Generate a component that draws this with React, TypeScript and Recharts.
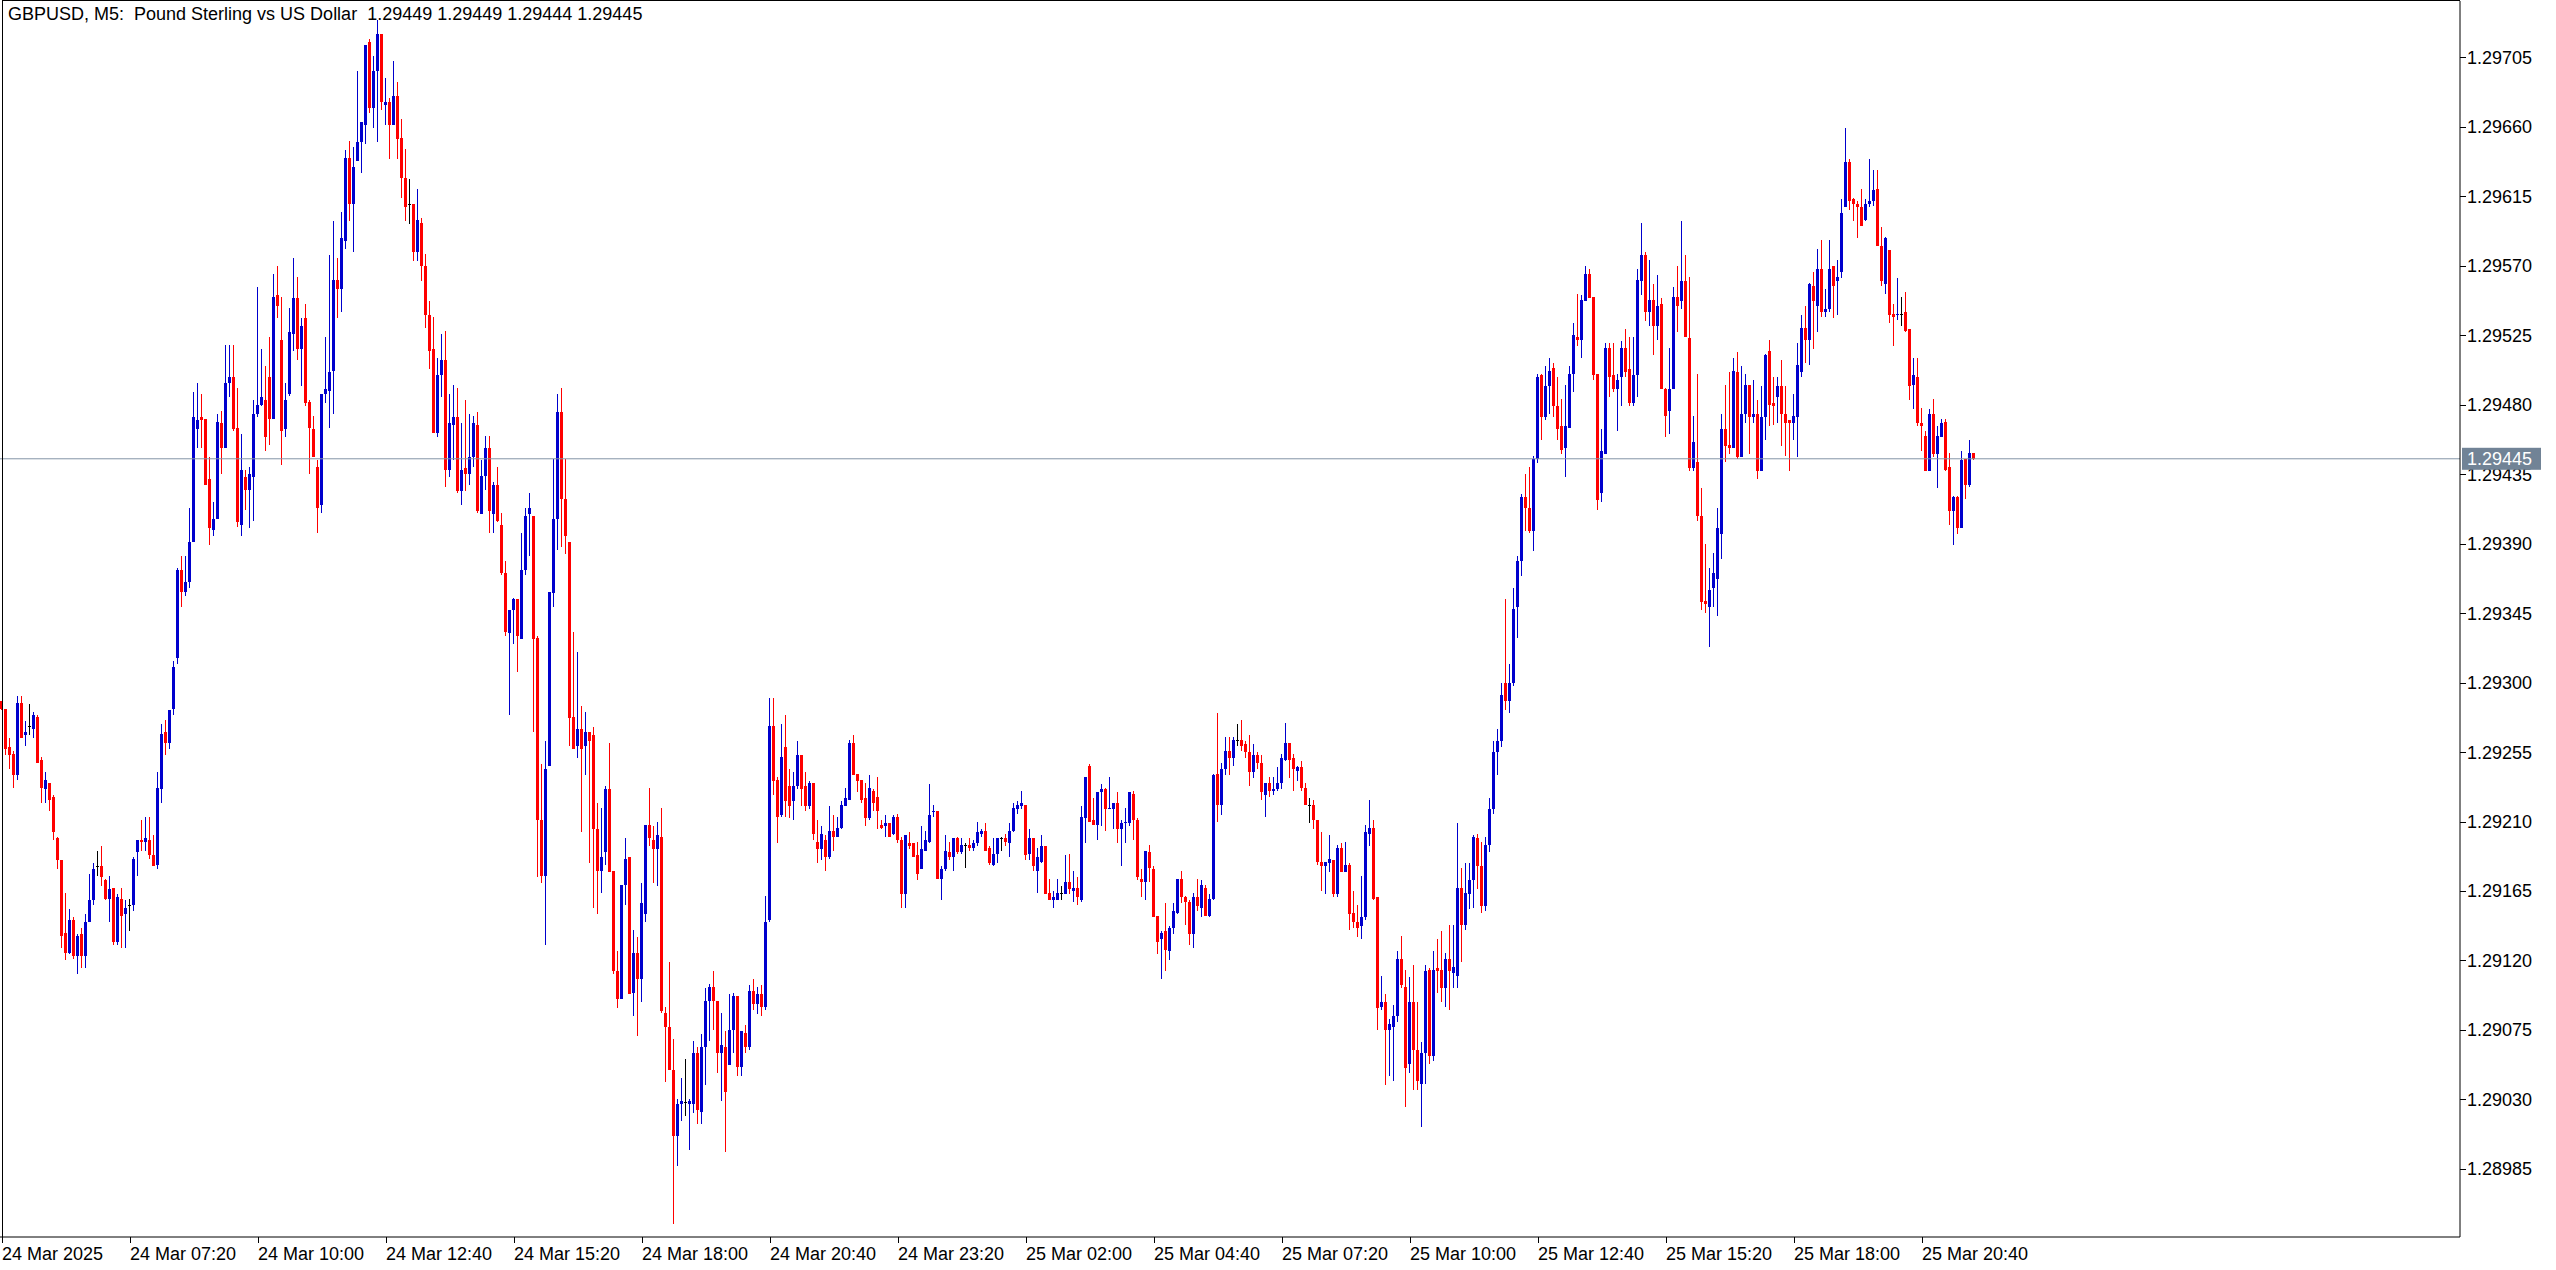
import React from 'react';
import { ComposedChart, Bar, XAxis, YAxis, ReferenceLine } from 'recharts';

// GBPUSD M5 candles, 24 Mar 04:40 .. 25 Mar 21:45 (2025).
// Prices are kept in points (0.00001) above 1.29000.
const BASE = 1.29;
const SYMBOL = 'GBPUSD';
const PERIOD = 'M5';
const DESCRIPTION = 'Pound Sterling vs US Dollar';

const opens = [
  288, 283, 258, 254, 240, 287, 266, 272, 270, 278,
  250, 231, 235, 226, 199, 185, 138, 125, 146, 123,
  137, 123, 145, 159, 181, 181, 172, 160, 167, 132,
  160, 150, 156, 156, 190, 198, 197, 198, 188, 182,
  231, 268, 261, 283, 316, 373, 359, 365, 391, 464,
  472, 471, 432, 399, 406, 468, 452, 494, 498, 465,
  402, 433, 425, 433, 474, 480, 483, 498, 471, 551,
  522, 464, 487, 526, 549, 516, 536, 482, 464, 440,
  415, 487, 489, 502, 561, 555, 586, 640, 610, 638,
  650, 661, 715, 672, 696, 720, 674, 676, 661, 680,
  653, 627, 610, 610, 579, 598, 570, 538, 516, 462,
  499, 509, 438, 467, 472, 424, 439, 435, 446, 467,
  409, 434, 452, 409, 428, 402, 371, 332, 347, 354,
  328, 373, 409, 408, 329, 211, 175, 246, 358, 406,
  475, 419, 391, 278, 259, 270, 259, 268, 266, 205,
  178, 190, 231, 178, 113, 95, 169, 187, 99, 125,
  108, 150, 208, 198, 192, 200, 86, 77, 49, 6,
  27, 28, 27, 27, 60, 22, 64, 94, 103, 94,
  60, 64, 52, 75, 97, 51, 73, 64, 100, 92,
  98, 90, 146, 272, 237, 214, 258, 233, 223, 233,
  253, 233, 220, 235, 197, 192, 198, 187, 204, 200,
  206, 220, 224, 261, 241, 237, 225, 212, 230, 226,
  208, 207, 209, 202, 213, 198, 163, 196, 196, 188,
  179, 191, 197, 216, 217, 173, 179, 190, 187, 199,
  190, 195, 195, 193, 196, 202, 204, 193, 182, 189,
  199, 199, 196, 204, 218, 220, 221, 189, 199, 178,
  184, 194, 164, 159, 159, 164, 163, 171, 165, 167,
  159, 212, 246, 211, 208, 229, 231, 218, 218, 222,
  205, 209, 209, 228, 211, 173, 171, 190, 179, 149,
  134, 139, 126, 141, 151, 173, 161, 158, 137, 161,
  154, 167, 149, 160, 241, 221, 244, 256, 251, 263,
  263, 260, 255, 242, 253, 248, 227, 235, 230, 231,
  235, 250, 261, 251, 243, 245, 232, 221, 221, 211,
  184, 181, 183, 185, 163, 193, 177, 182, 151, 145,
  142, 148, 202, 206, 161, 90, 93, 75, 77, 84,
  121, 103, 53, 93, 62, 40, 60, 114, 58, 115,
  114, 102, 121, 112, 110, 167, 143, 163, 172, 199,
  181, 155, 195, 218, 255, 262, 300, 288, 300, 349,
  379, 420, 413, 398, 445, 499, 472, 492, 504, 479,
  466, 452, 465, 500, 524, 522, 547, 565, 550, 500,
  423, 448, 517, 499, 490, 498, 517, 503, 481, 499,
  560, 577, 540, 548, 531, 545, 490, 476, 490, 550,
  547, 560, 523, 439, 443, 408, 353, 349, 361, 367,
  396, 464, 454, 452, 501, 446, 474, 493, 472, 474,
  437, 472, 515, 481, 485, 492, 474, 470, 468, 472,
  501, 530, 522, 557, 544, 568, 540, 542, 570, 560,
  566, 608, 637, 613, 610, 608, 600, 610, 612, 620,
  583, 558, 580, 539, 538, 539, 540, 529, 493, 498,
  468, 460, 437, 474, 448, 459, 469, 440, 411, 420,
  400, 445, 428, 449,
];

const highs = [
  288, 283, 264, 256, 291, 291, 275, 286, 281, 279,
  252, 242, 235, 227, 200, 185, 164, 153, 148, 137,
  141, 150, 176, 183, 191, 194, 173, 175, 167, 163,
  167, 159, 160, 187, 198, 211, 213, 213, 201, 242,
  273, 276, 282, 314, 374, 382, 382, 413, 488, 494,
  487, 471, 446, 417, 474, 476, 519, 519, 519, 491,
  461, 438, 440, 483, 556, 516, 505, 524, 565, 570,
  550, 494, 543, 575, 563, 536, 545, 483, 473, 444,
  487, 524, 577, 599, 575, 605, 645, 651, 647, 696,
  663, 713, 717, 706, 729, 720, 692, 679, 703, 689,
  665, 646, 626, 610, 620, 601, 578, 547, 537, 510,
  526, 528, 487, 493, 491, 468, 483, 474, 473, 475,
  444, 460, 460, 430, 440, 410, 379, 347, 355, 354,
  397, 413, 423, 408, 330, 247, 262, 359, 445, 487,
  491, 445, 391, 333, 320, 285, 281, 268, 271, 222,
  219, 233, 261, 178, 126, 169, 199, 187, 140, 135,
  170, 208, 232, 207, 210, 219, 90, 119, 69, 30,
  44, 56, 30, 68, 64, 72, 102, 105, 113, 94,
  86, 74, 98, 99, 97, 74, 78, 104, 108, 103,
  104, 162, 290, 290, 239, 273, 279, 244, 242, 262,
  253, 242, 236, 235, 211, 207, 201, 220, 214, 213,
  223, 232, 263, 266, 241, 237, 235, 240, 231, 239,
  211, 214, 209, 214, 215, 200, 201, 203, 196, 197,
  207, 204, 234, 221, 217, 181, 201, 197, 199, 200,
  199, 196, 199, 198, 210, 205, 209, 194, 199, 199,
  200, 202, 209, 222, 223, 230, 221, 205, 199, 193,
  201, 194, 173, 165, 173, 168, 188, 189, 178, 174,
  220, 239, 247, 225, 229, 234, 232, 239, 222, 229,
  211, 219, 229, 230, 212, 179, 191, 195, 181, 149,
  139, 157, 142, 157, 173, 178, 162, 159, 164, 173,
  172, 169, 163, 241, 280, 248, 265, 265, 265, 273,
  276, 262, 266, 260, 255, 253, 235, 239, 239, 245,
  254, 274, 261, 254, 246, 249, 235, 225, 224, 211,
  203, 184, 201, 185, 195, 196, 197, 183, 165, 156,
  175, 208, 224, 211, 161, 110, 98, 82, 91, 126,
  136, 114, 109, 117, 93, 67, 117, 115, 126, 134,
  139, 125, 143, 143, 209, 180, 183, 183, 201, 202,
  197, 200, 225, 262, 270, 300, 354, 312, 361, 382,
  422, 435, 440, 447, 500, 500, 505, 510, 507, 498,
  484, 493, 505, 533, 552, 551, 570, 568, 550, 500,
  464, 520, 520, 520, 500, 521, 529, 524, 524, 568,
  598, 579, 574, 558, 564, 549, 491, 517, 556, 570,
  599, 577, 563, 473, 500, 426, 390, 374, 384, 413,
  474, 493, 501, 510, 514, 505, 500, 493, 496, 483,
  492, 513, 522, 498, 498, 509, 492, 470, 487, 520,
  538, 544, 559, 566, 581, 587, 555, 587, 570, 574,
  613, 659, 639, 614, 612, 620, 613, 639, 632, 632,
  595, 589, 580, 545, 562, 550, 553, 529, 510, 510,
  478, 463, 477, 484, 466, 471, 471, 449, 421, 421,
  450, 445, 457, 449,
];

const lows = [
  282, 253, 244, 232, 237, 264, 259, 266, 264, 248,
  222, 222, 217, 198, 179, 128, 120, 124, 121, 111,
  115, 115, 145, 156, 175, 168, 159, 145, 130, 130,
  128, 128, 139, 152, 175, 191, 191, 186, 181, 179,
  222, 253, 257, 279, 312, 349, 356, 361, 391, 452,
  452, 428, 389, 395, 406, 435, 452, 485, 463, 401,
  395, 412, 400, 405, 472, 479, 450, 454, 471, 536,
  441, 459, 486, 515, 509, 492, 479, 435, 446, 397,
  410, 481, 465, 474, 536, 540, 581, 599, 579, 638,
  630, 649, 669, 659, 650, 671, 661, 639, 661, 639,
  614, 599, 597, 573, 573, 560, 530, 503, 462, 459,
  485, 427, 433, 444, 423, 415, 424, 428, 440, 410,
  409, 425, 397, 397, 404, 370, 330, 279, 325, 307,
  328, 370, 382, 268, 174, 170, 130, 246, 349, 386,
  388, 383, 259, 257, 251, 203, 240, 183, 154, 150,
  164, 182, 177, 111, 89, 95, 156, 98, 84, 71,
  93, 145, 194, 170, 168, 86, 41, 49, -51, -13,
  16, 19, -3, 21, 14, 14, 39, 68, 75, 47,
  29, -4, 52, 60, 45, 45, 60, 62, 88, 85,
  84, 88, 145, 227, 196, 213, 213, 212, 211, 231,
  220, 217, 218, 198, 183, 185, 178, 186, 191, 200,
  205, 220, 224, 240, 229, 222, 207, 211, 217, 205,
  205, 200, 200, 201, 196, 154, 154, 192, 187, 172,
  179, 191, 196, 213, 173, 159, 178, 185, 178, 189,
  189, 180, 191, 191, 194, 200, 191, 182, 181, 183,
  191, 194, 187, 203, 215, 218, 185, 185, 178, 164,
  183, 163, 159, 154, 159, 159, 163, 163, 158, 156,
  158, 196, 210, 208, 198, 207, 204, 218, 205, 196,
  181, 196, 207, 198, 172, 161, 159, 171, 148, 124,
  108, 113, 120, 137, 150, 157, 143, 130, 128, 152,
  148, 149, 148, 159, 210, 214, 240, 240, 246, 259,
  256, 251, 233, 238, 244, 224, 213, 226, 227, 230,
  231, 249, 238, 230, 236, 230, 221, 209, 205, 182,
  165, 163, 177, 161, 161, 177, 177, 140, 141, 135,
  134, 146, 194, 159, 75, 88, 39, 45, 42, 80,
  102, 25, 47, 36, 36, 12, 40, 53, 55, 99,
  93, 90, 88, 102, 102, 119, 140, 153, 154, 166,
  151, 152, 190, 215, 240, 258, 282, 280, 298, 329,
  369, 398, 397, 385, 442, 457, 470, 474, 472, 457,
  448, 433, 465, 488, 518, 510, 547, 549, 496, 412,
  417, 448, 485, 488, 463, 479, 498, 479, 479, 485,
  551, 534, 531, 512, 522, 490, 459, 461, 490, 527,
  542, 524, 437, 437, 405, 347, 345, 323, 349, 343,
  380, 443, 448, 452, 445, 446, 468, 448, 468, 432,
  437, 457, 466, 467, 468, 453, 447, 437, 457, 446,
  498, 507, 506, 516, 527, 537, 537, 540, 536, 538,
  562, 608, 606, 599, 588, 596, 599, 608, 609, 583,
  557, 552, 533, 518, 535, 531, 527, 483, 477, 466,
  450, 437, 437, 446, 426, 459, 437, 402, 389, 396,
  400, 419, 427, 444,
];

const closes = [
  283, 257, 253, 240, 287, 264, 268, 272, 279, 248,
  232, 237, 224, 203, 185, 136, 125, 146, 123, 136,
  123, 145, 159, 179, 181, 174, 160, 166, 132, 161,
  149, 154, 156, 186, 198, 197, 199, 188, 181, 232,
  267, 261, 282, 310, 373, 359, 365, 391, 472, 470,
  470, 428, 400, 406, 469, 452, 494, 498, 464, 404,
  438, 425, 435, 474, 480, 485, 459, 471, 550, 544,
  463, 483, 527, 549, 516, 531, 481, 465, 446, 413,
  487, 490, 501, 561, 555, 588, 640, 610, 634, 650,
  663, 713, 672, 696, 720, 676, 676, 661, 680, 652,
  627, 608, 610, 579, 600, 570, 538, 515, 462, 499,
  509, 438, 468, 472, 424, 438, 435, 446, 468, 411,
  434, 452, 411, 428, 405, 371, 333, 347, 354, 330,
  373, 408, 413, 328, 211, 175, 244, 359, 406, 475,
  419, 395, 277, 257, 270, 257, 268, 262, 205, 178,
  187, 231, 177, 113, 95, 169, 186, 98, 125, 108,
  157, 208, 199, 192, 201, 87, 77, 49, 6, 27,
  29, 28, 29, 60, 23, 64, 94, 103, 94, 60,
  65, 35, 75, 97, 51, 74, 64, 100, 92, 98,
  90, 145, 272, 236, 213, 252, 223, 220, 233, 253,
  231, 220, 235, 202, 192, 202, 187, 204, 200, 206,
  221, 225, 261, 240, 236, 224, 212, 232, 222, 217,
  206, 209, 200, 213, 198, 163, 201, 194, 187, 176,
  192, 198, 214, 217, 173, 179, 191, 187, 199, 190,
  195, 195, 193, 196, 203, 204, 191, 183, 189, 199,
  199, 197, 204, 219, 221, 222, 188, 199, 181, 187,
  194, 163, 159, 161, 164, 164, 171, 166, 167, 161,
  213, 239, 210, 208, 229, 231, 218, 219, 222, 205,
  209, 210, 229, 211, 174, 171, 191, 180, 148, 132,
  138, 127, 141, 152, 173, 161, 158, 137, 161, 155,
  169, 149, 160, 240, 221, 244, 256, 251, 263, 263,
  259, 255, 242, 253, 248, 229, 235, 230, 231, 235,
  251, 261, 250, 244, 245, 232, 221, 221, 211, 184,
  181, 184, 186, 163, 193, 177, 182, 150, 145, 141,
  148, 203, 206, 160, 89, 93, 75, 79, 84, 121,
  104, 50, 93, 62, 42, 60, 113, 58, 114, 113,
  102, 121, 113, 116, 167, 143, 164, 172, 200, 181,
  155, 195, 218, 255, 262, 292, 288, 300, 348, 379,
  420, 413, 398, 445, 498, 472, 492, 502, 479, 464,
  451, 466, 500, 525, 522, 548, 565, 549, 499, 418,
  450, 517, 498, 490, 496, 517, 501, 481, 499, 561,
  577, 540, 548, 531, 544, 490, 473, 490, 550, 544,
  560, 524, 439, 456, 408, 352, 351, 360, 371, 400,
  464, 453, 452, 502, 446, 474, 493, 472, 474, 437,
  472, 512, 480, 479, 492, 474, 468, 468, 473, 506,
  530, 522, 558, 547, 568, 540, 542, 568, 557, 563,
  604, 637, 612, 610, 608, 596, 610, 612, 619, 583,
  560, 588, 538, 537, 539, 539, 528, 492, 499, 468,
  466, 437, 474, 448, 460, 468, 438, 411, 420, 400,
  444, 428, 449, 445,
];

// one label every 32 bars (160 minutes); the first one shows the date only
const timeLabels = [
  '24 Mar 2025', '24 Mar 07:20', '24 Mar 10:00', '24 Mar 12:40',
  '24 Mar 15:20', '24 Mar 18:00', '24 Mar 20:40', '24 Mar 23:20',
  '25 Mar 02:00', '25 Mar 04:40', '25 Mar 07:20', '25 Mar 10:00',
  '25 Mar 12:40', '25 Mar 15:20', '25 Mar 18:00', '25 Mar 20:40',
];
const BARS_PER_LABEL = 32;

const priceTicks = [
  -15, 30, 75, 120, 165, 210, 255, 300, 345, 390, 435, 480, 525, 570, 615, 660, 705,
];

// layout
const W = 2556;
const H = 1270;
const AXIS_W = 96;
const AXIS_H = 33;
const TOP = 1;
const PLOT_R = W - AXIS_W;
const PLOT_B = H - AXIS_H;
const SLOTS = 615; // 4px per bar across the plot, empty slots on the right
const Y_MIN = -59.2;
const Y_MAX = 741.6;

const FONT = '"Liberation Sans", Arial, sans-serif';
const BULL = '#0000cd';
const BEAR = '#ff0000';
const DOJI = '#000000';
const BID_LINE = '#8394a6';
const BID_TAG = '#718396';

const last = closes.length - 1;
const lastClose = closes[last];

const fmt = (v: number) => (BASE + v / 100000).toFixed(5);

const rows = Array.from({ length: SLOTS }, (_, i) =>
  i < closes.length
    ? { i, open: opens[i], high: highs[i], low: lows[i], close: closes[i], range: [lows[i], highs[i]] }
    : { i }
);

const timeTicks = timeLabels.map((_, j) => j * BARS_PER_LABEL);

function Candle(props: any) {
  const { x, y, width, height, payload } = props;
  if (!payload || payload.close == null || !isFinite(y) || !isFinite(height)) return null;
  const { open, close, high, low } = payload;
  const top = height >= 0 ? y : y + height;
  const h = Math.abs(height);
  const ppu = high > low ? h / (high - low) : 0;
  const color = close > open ? BULL : close < open ? BEAR : DOJI;
  const cx = x + width / 2;
  const bodyTop = top + (high - Math.max(open, close)) * ppu;
  const bodyH = Math.max(1, Math.abs(close - open) * ppu);
  return (
    <g shapeRendering="crispEdges">
      <rect x={Math.floor(cx)} y={top} width={1} height={Math.max(1, h)} fill={color} />
      <rect x={Math.round(cx - 1.5)} y={bodyTop} width={3} height={bodyH} fill={color} />
    </g>
  );
}

function TimeTick(props: any) {
  const { x, payload } = props;
  const label = timeLabels[payload.value / BARS_PER_LABEL];
  if (!label) return null;
  return (
    <g>
      <rect x={Math.floor(x)} y={PLOT_B} width={1} height={6} fill="#000" />
      <text x={Math.floor(x)} y={PLOT_B + 23} fontFamily={FONT} fontSize={18} fill="#000">
        {label}
      </text>
    </g>
  );
}

function PriceTick(props: any) {
  const { y, payload, index } = props;
  const v = payload.value;
  if (index === priceTicks.length) {
    return (
      <g>
        <rect x={PLOT_R + 2} y={y - 11} width={79} height={22} fill={BID_TAG} />
        <text x={PLOT_R + 7} y={y} dy="0.36em" fontFamily={FONT} fontSize={18} fill="#fff">
          {fmt(v)}
        </text>
      </g>
    );
  }
  return (
    <g>
      <rect x={PLOT_R} y={Math.round(y)} width={6} height={1} fill="#000" />
      <text x={PLOT_R + 7} y={y} dy="0.36em" fontFamily={FONT} fontSize={18} fill="#000">
        {fmt(v)}
      </text>
    </g>
  );
}

export default function App() {
  const title = `${SYMBOL}, ${PERIOD}:  ${DESCRIPTION}  ${fmt(opens[last])} ${fmt(highs[last])} ${fmt(lows[last])} ${fmt(closes[last])}`;
  return (
    <div style={{ position: 'absolute', left: 0, top: 0, width: W, height: H, background: '#fff' }}>
      <ComposedChart
        width={W}
        height={H}
        data={rows}
        margin={{ top: TOP, right: 0, bottom: 0, left: 0 }}
      >
        <XAxis
          dataKey="i"
          type="category"
          ticks={timeTicks}
          interval={0}
          tick={<TimeTick />}
          tickLine={false}
          axisLine={{ stroke: '#000' }}
          height={AXIS_H}
        />
        <YAxis
          orientation="right"
          type="number"
          domain={[Y_MIN, Y_MAX]}
          allowDataOverflow
          ticks={[...priceTicks, lastClose]}
          interval={0}
          tick={<PriceTick />}
          tickLine={false}
          axisLine={{ stroke: '#000' }}
          width={AXIS_W}
        />
        <ReferenceLine y={lastClose} stroke={BID_LINE} strokeWidth={1} />
        <Bar dataKey="range" shape={<Candle />} isAnimationActive={false} />
      </ComposedChart>
      <div
        style={{
          position: 'absolute',
          left: 2,
          top: 0,
          width: PLOT_R - 2,
          height: PLOT_B,
          borderLeft: '1px solid #000',
          borderTop: '1px solid #000',
          boxSizing: 'border-box',
          pointerEvents: 'none',
        }}
      />
      <div
        style={{
          position: 'absolute',
          left: 8,
          top: 5,
          fontFamily: FONT,
          fontSize: 18,
          lineHeight: '18px',
          whiteSpace: 'pre',
          color: '#000',
        }}
      >
        {title}
      </div>
    </div>
  );
}
